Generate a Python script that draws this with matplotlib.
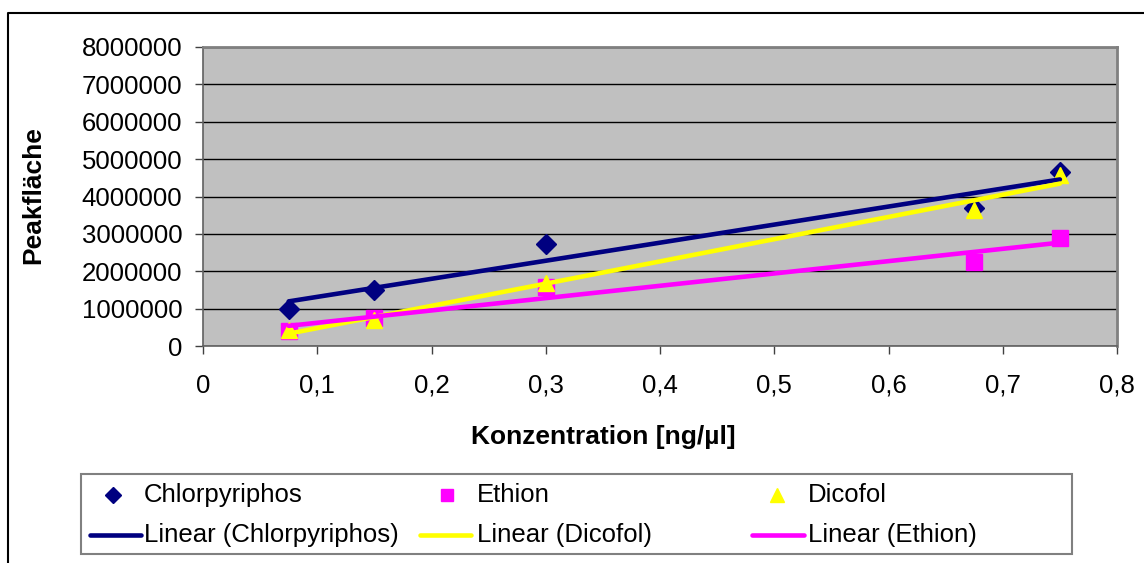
import numpy as np
import matplotlib
matplotlib.use("Agg")
import matplotlib.pyplot as plt
from matplotlib.lines import Line2D
from matplotlib.patches import Rectangle

plt.rcParams['font.family'] = ['Liberation Sans', 'DejaVu Sans']

# Calibration data: concentration vs. peak area
konzentration = [0.075, 0.15, 0.3, 0.675, 0.75]
chlorpyriphos = [990000, 1490000, 2740000, 3700000, 4660000]
ethion = [410000, 740000, 1580000, 2260000, 2900000]
dicofol = [420000, 700000, 1680000, 3640000, 4580000]

x_ticks = [0, 0.1, 0.2, 0.3, 0.4, 0.5, 0.6, 0.7, 0.8]
x_ticklabels = ['0', '0,1', '0,2', '0,3', '0,4', '0,5', '0,6', '0,7', '0,8']
y_ticks = [0, 1000000, 2000000, 3000000, 4000000, 5000000, 6000000, 7000000, 8000000]
y_ticklabels = [str(v) for v in y_ticks]

C_CHL = '#000080'
C_ETH = '#FF00FF'
C_DIC = '#FFFF00'

W, H = 1144, 563
fig = plt.figure(figsize=(W / 100, H / 100), dpi=100)
fig.patch.set_facecolor('white')


def fx(px):
    return px / W


def fy(py):
    return 1 - py / H


# outer chart frame
fig.add_artist(Line2D([fx(8), fx(8), fx(W + 10)], [fy(H + 10), fy(13), fy(13)],
                      transform=fig.transFigure, color='black', lw=1.5))

left, right, top, bottom = 203, 1117, 47, 346
ax = fig.add_axes([fx(left), fy(bottom), fx(right - left), (bottom - top) / H])
ax.set_facecolor('#C0C0C0')

x = np.array(konzentration)
series = [
    ('Chlorpyriphos', chlorpyriphos, C_CHL, 'D', 10),
    ('Ethion', ethion, C_ETH, 's', 11),
    ('Dicofol', dicofol, C_DIC, '^', 12),
]
for name, vals, col, mk, ms in series:
    ax.plot(x, vals, linestyle='none', marker=mk, markersize=ms,
            color=col, markeredgecolor=col, zorder=3)

# linear trend lines (least squares)
xs = np.array([x.min(), x.max()])
for name, vals, col in [('Chlorpyriphos', chlorpyriphos, C_CHL),
                        ('Dicofol', dicofol, C_DIC),
                        ('Ethion', ethion, C_ETH)]:
    k, d = np.polyfit(x, np.array(vals, dtype=float), 1)
    ax.plot(xs, k * xs + d, color=col, lw=3.3, solid_capstyle='round', zorder=4)

ax.set_xlim(0, 0.8)
ax.set_ylim(0, 8000000)
ax.set_xticks(x_ticks)
ax.set_xticklabels(x_ticklabels)
ax.set_yticks(y_ticks)
ax.set_yticklabels(y_ticklabels)
ax.yaxis.grid(True, color='black', lw=1.0)
ax.set_axisbelow(True)
ax.tick_params(axis='both', direction='out', length=6, width=1, color='#404040',
               labelsize=18.5, labelcolor='black')
ax.tick_params(axis='x', pad=14)
ax.tick_params(axis='y', pad=9)
for side in ['top', 'right']:
    ax.spines[side].set_color('#808080')
    ax.spines[side].set_linewidth(2)
for side in ['left', 'bottom']:
    ax.spines[side].set_color('#606060')
    ax.spines[side].set_linewidth(1.2)

fig.text(fx(33), fy(195), 'Peakfläche', rotation=90, ha='center', va='center',
         fontsize=19, fontweight='bold')
fig.text(fx(603), fy(437), 'Konzentration [ng/µl]', ha='center', va='center',
         fontsize=19, fontweight='bold')

# legend box
fig.add_artist(Rectangle((fx(81), fy(554)), fx(1072 - 81), (554 - 474) / H,
                         transform=fig.transFigure, facecolor='white',
                         edgecolor='#808080', lw=1.5))
row1, row2 = 495, 535
marker_entries = [
    (113, 144, 'Chlorpyriphos', C_CHL, 'D', 8),
    (447, 477, 'Ethion', C_ETH, 's', 9),
    (777, 808, 'Dicofol', C_DIC, '^', 10),
]
for mx, tx, label, col, mk, ms in marker_entries:
    fig.add_artist(Line2D([fx(mx)], [fy(row1)], transform=fig.transFigure,
                          linestyle='none', marker=mk, markersize=ms,
                          color=col, markeredgecolor=col))
    fig.text(fx(tx), fy(row1), label, ha='left', va='center', fontsize=18.5)

line_entries = [
    (90, 141, 144, 'Linear (Chlorpyriphos)', C_CHL),
    (420, 471, 477, 'Linear (Dicofol)', C_DIC),
    (752, 804, 808, 'Linear (Ethion)', C_ETH),
]
for x0, x1, tx, label, col in line_entries:
    fig.add_artist(Line2D([fx(x0), fx(x1)], [fy(row2), fy(row2)],
                          transform=fig.transFigure, color=col, lw=3.3,
                          solid_capstyle='round'))
    fig.text(fx(tx), fy(row2), label, ha='left', va='center', fontsize=18.5)

fig.savefig('out.png', dpi=100)
